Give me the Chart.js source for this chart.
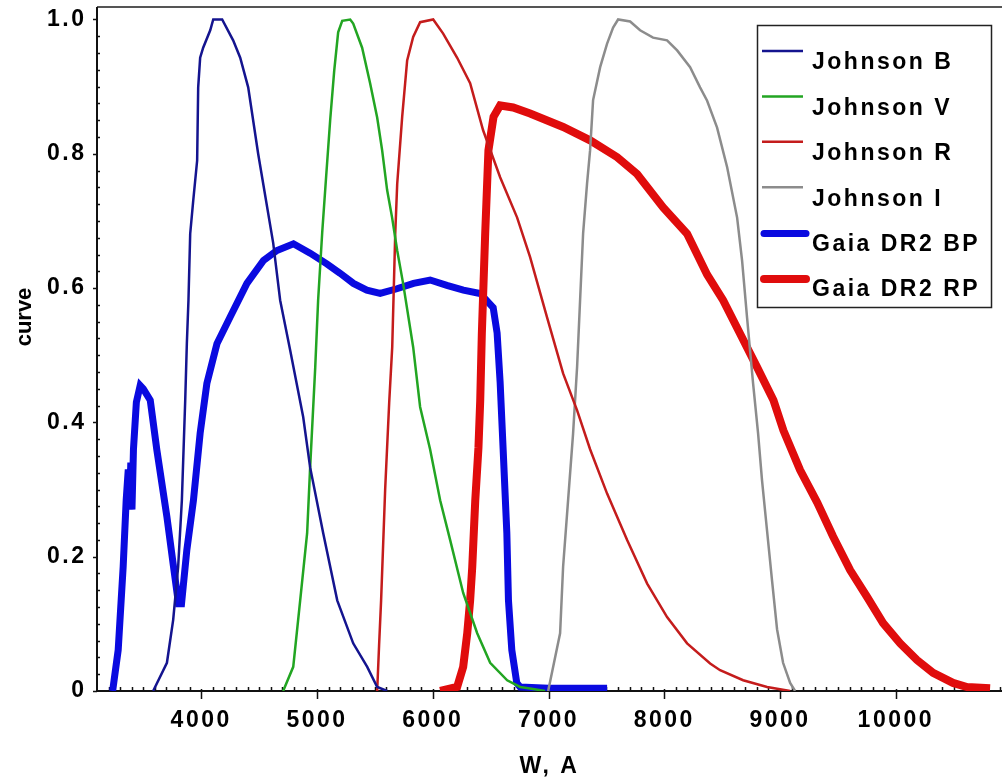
<!DOCTYPE html>
<html>
<head>
<meta charset="utf-8">
<script src="https://cdn.jsdelivr.net/npm/chart.js"></script>
<style>
  html, body { margin: 0; padding: 0; background: #fff; }
  #wrap { width: 1002px; height: 778px; }
</style>
</head>
<body>
<div id="wrap"><canvas id="myChart"></canvas></div>
<script>
// wavelength (A) / transmission pairs
const jbW = [3585, 3704, 3758, 3801, 3833, 3862, 3876, 3890, 3905, 3931, 3965, 3974, 3991, 4017, 4078, 4104, 4181, 4276, 4337, 4406, 4492, 4622, 4682, 4769, 4881, 4941, 5054, 5175, 5313, 5434, 5520, 5606];
const jbT = [0, 0.042, 0.106, 0.185, 0.284, 0.433, 0.517, 0.582, 0.681, 0.73, 0.79, 0.899, 0.943, 0.958, 0.984, 1.0, 1.0, 0.969, 0.943, 0.899, 0.8, 0.667, 0.582, 0.507, 0.408, 0.333, 0.235, 0.135, 0.071, 0.036, 0.006, 0];

const jvW = [4708, 4795, 4855, 4915, 4941, 4985, 5010, 5045, 5080, 5114, 5149, 5183, 5218, 5287, 5313, 5390, 5459, 5520, 5563, 5606, 5649, 5693, 5744, 5831, 5891, 5977, 6064, 6150, 6263, 6384, 6496, 6643, 6755, 6867, 6971];
const jvT = [0, 0.036, 0.135, 0.235, 0.333, 0.482, 0.582, 0.682, 0.768, 0.85, 0.924, 0.981, 0.998, 1.0, 0.994, 0.958, 0.905, 0.854, 0.805, 0.746, 0.705, 0.656, 0.607, 0.512, 0.423, 0.36, 0.284, 0.225, 0.146, 0.086, 0.042, 0.016, 0.006, 0.003, 0];

const jrW = [5520, 5537, 5554, 5589, 5624, 5650, 5676, 5693, 5736, 5779, 5831, 5891, 6004, 6090, 6211, 6323, 6435, 6582, 6729, 6841, 6988, 7126, 7247, 7359, 7506, 7679, 7852, 8024, 8197, 8396, 8482, 8681, 8888, 9087];
const jrT = [0, 0.07, 0.135, 0.3, 0.43, 0.512, 0.681, 0.755, 0.855, 0.939, 0.974, 0.996, 1.0, 0.979, 0.943, 0.905, 0.835, 0.765, 0.705, 0.646, 0.556, 0.473, 0.418, 0.36, 0.294, 0.225, 0.16, 0.11, 0.071, 0.041, 0.031, 0.016, 0.006, 0];

const jiW = [6997, 7100, 7126, 7169, 7212, 7247, 7273, 7299, 7333, 7359, 7385, 7446, 7506, 7558, 7601, 7705, 7791, 7903, 8024, 8111, 8223, 8309, 8370, 8456, 8543, 8629, 8672, 8715, 8741, 8767, 8810, 8844, 8888, 8931, 8974, 9026, 9087, 9130];
const jiT = [0, 0.086, 0.185, 0.284, 0.383, 0.483, 0.583, 0.682, 0.756, 0.805, 0.88, 0.929, 0.964, 0.988, 1.0, 0.997, 0.984, 0.973, 0.969, 0.954, 0.929, 0.899, 0.879, 0.839, 0.78, 0.705, 0.641, 0.556, 0.507, 0.458, 0.384, 0.314, 0.238, 0.164, 0.092, 0.042, 0.012, 0];

const bpW = [3235, 3283, 3326, 3352, 3370, 3380, 3392, 3402, 3415, 3440, 3473, 3500, 3560, 3617, 3704, 3761, 3804, 3830, 3876, 3933, 3991, 4049, 4136, 4250, 4395, 4538, 4654, 4797, 4941, 5085, 5200, 5315, 5431, 5546, 5690, 5834, 5978, 6122, 6265, 6409, 6522, 6556, 6582, 6608, 6640, 6654, 6683, 6726, 6755, 7000, 7506];
const bpT = [0, 0.061, 0.185, 0.284, 0.33, 0.27, 0.34, 0.27, 0.36, 0.43, 0.455, 0.45, 0.433, 0.359, 0.259, 0.185, 0.13, 0.13, 0.21, 0.284, 0.384, 0.458, 0.517, 0.557, 0.607, 0.641, 0.656, 0.666, 0.652, 0.636, 0.622, 0.607, 0.597, 0.592, 0.599, 0.607, 0.612, 0.604, 0.597, 0.592, 0.571, 0.533, 0.46, 0.36, 0.235, 0.135, 0.061, 0.012, 0.006, 0.004, 0.004];

const rpW = [6064, 6211, 6263, 6298, 6323, 6341, 6367, 6395, 6410, 6424, 6453, 6481, 6525, 6582, 6694, 6841, 7126, 7359, 7593, 7765, 7990, 8197, 8370, 8508, 8655, 8799, 8943, 9029, 9173, 9320, 9458, 9605, 9752, 9890, 10037, 10183, 10322, 10494, 10615, 10814];
const rpT = [0, 0.006, 0.036, 0.086, 0.135, 0.184, 0.283, 0.363, 0.432, 0.532, 0.681, 0.805, 0.855, 0.872, 0.869, 0.86, 0.84, 0.82, 0.795, 0.77, 0.72, 0.681, 0.62, 0.582, 0.532, 0.483, 0.433, 0.388, 0.329, 0.281, 0.23, 0.18, 0.14, 0.101, 0.071, 0.046, 0.027, 0.012, 0.006, 0.004];

const xTicks = [4000, 5000, 6000, 7000, 8000, 9000, 10000];
const yTicks = [0, 0.2, 0.4, 0.6, 0.8, 1.0];

const FONT = { family: "'Liberation Sans', Arial, sans-serif", size: 23, weight: "bold" };

function pts(ws, ts) {
  return ws.map((w, i) => ({ x: w, y: ts[i] }));
}

function line(label, ws, ts, color, width, order) {
  return {
    label: label,
    data: pts(ws, ts),
    borderColor: color,
    backgroundColor: color,
    borderWidth: width,
    pointRadius: 0,
    showLine: true,
    tension: 0,
    order: order,
  };
}

// no overhang padding from the tick labels
function noPad(s) {
  s.paddingTop = 0;
  s.paddingBottom = 0;
  s.paddingLeft = 0;
  s.paddingRight = 0;
}

// axis lines, minor ticks, y title and the legend box drawn by hand
const frame = {
  id: "frame",
  beforeDraw(chart) {
    chart.ctx.letterSpacing = "2.5px";
  },
  beforeDatasetsDraw(chart) {
    const ctx = chart.ctx;
    const a = chart.chartArea;
    const xs = chart.scales.x;
    const ys = chart.scales.y;
    ctx.save();
    ctx.strokeStyle = "#555";
    ctx.lineWidth = 2;
    ctx.beginPath();
    ctx.moveTo(a.left, a.top);
    ctx.lineTo(a.right, a.top);
    ctx.stroke();
    ctx.strokeStyle = "#111";
    ctx.beginPath();
    ctx.moveTo(a.left, a.top);
    ctx.lineTo(a.left, a.bottom);
    ctx.lineTo(a.right, a.bottom);
    ctx.stroke();
    ctx.lineWidth = 1.5;
    ctx.beginPath();
    for (let w = 3200; w <= 10900; w += 100) {
      const px = Math.round(xs.getPixelForValue(w)) + 0.5;
      if (w % 1000 === 0) {
        ctx.moveTo(px, a.bottom - 2);
        ctx.lineTo(px, a.bottom + 8);
      } else {
        ctx.moveTo(px, a.bottom - 4);
        ctx.lineTo(px, a.bottom);
      }
    }
    for (let i = 0; i <= 40; i++) {
      const py = Math.round(ys.getPixelForValue(i * 0.025)) + 0.5;
      if (i % 8 === 0) {
        ctx.moveTo(a.left - 4, py);
        ctx.lineTo(a.left, py);
      } else {
        ctx.moveTo(a.left, py);
        ctx.lineTo(a.left + 3, py);
      }
    }
    ctx.stroke();
    ctx.restore();
  },
  afterDraw(chart) {
    const ctx = chart.ctx;
    ctx.save();
    // y axis title
    ctx.save();
    ctx.letterSpacing = "0px";
    ctx.fillStyle = "#000";
    ctx.font = "bold 22px 'Liberation Sans', Arial, sans-serif";
    ctx.textAlign = "center";
    ctx.textBaseline = "middle";
    ctx.translate(25, 317);
    ctx.rotate(-Math.PI / 2);
    ctx.fillText("curve", 0, 0);
    ctx.restore();
    // legend
    ctx.fillStyle = "#fff";
    ctx.fillRect(757, 25, 235, 283);
    ctx.strokeStyle = "#222";
    ctx.lineWidth = 1.5;
    ctx.strokeRect(757.5, 25.5, 234, 282);
    ctx.font = "bold 23px 'Liberation Sans', Arial, sans-serif";
    ctx.textBaseline = "middle";
    ctx.textAlign = "left";
    chart.data.datasets.forEach((ds, i) => {
      const cy = 63 + i * 45.4;
      const thick = ds.borderWidth > 4;
      ctx.strokeStyle = ds.borderColor;
      ctx.lineWidth = ds.borderWidth;
      ctx.lineCap = thick ? "round" : "butt";
      ctx.beginPath();
      ctx.moveTo(thick ? 764 : 762, cy - (thick ? 11 : 12));
      ctx.lineTo(thick ? 806 : 803, cy - (thick ? 11 : 12));
      ctx.stroke();
      ctx.fillStyle = "#000";
      ctx.fillText(ds.label, 812, cy);
    });
    ctx.restore();
  },
};

const ctx = document.getElementById("myChart");
const chart = new Chart(ctx, {
  type: "scatter",
  data: {
    datasets: [
      line("Johnson B", jbW, jbT, "#14148f", 2.5, 0),
      line("Johnson V", jvW, jvT, "#22a522", 2.5, 0),
      line("Johnson R", jrW, jrT, "#c41c1c", 2.5, 0),
      line("Johnson I", jiW, jiT, "#8c8c8c", 2.5, 0),
      line("Gaia DR2 BP", bpW, bpT, "#0a0ae0", 7, 2),
      line("Gaia DR2 RP", rpW, rpT, "#e00c0c", 8, 1),
    ],
  },
  plugins: [frame],
  options: {
    responsive: true,
    maintainAspectRatio: false,
    animation: false,
    devicePixelRatio: 1,
    layout: { autoPadding: false, padding: { top: 7, right: 0, left: 0, bottom: 0 } },
    plugins: {
      legend: { display: false },
      tooltip: { enabled: false },
    },
    scales: {
      x: {
        type: "linear",
        min: 3100,
        max: 10917,
        afterBuildTicks: (s) => { s.ticks = xTicks.map((v) => ({ value: v })); },
        afterFit: (s) => { s.height = 87; noPad(s); },
        grid: { display: false, drawTicks: false },
        border: { display: false },
        ticks: {
          font: FONT,
          color: "#000",
          padding: 16,
          maxRotation: 0,
          autoSkip: false,
          callback: (v) => String(v),
        },
        title: {
          display: true,
          text: "W, A",
          color: "#000",
          font: { ...FONT, lineHeight: 1 },
          padding: { top: 0, bottom: 0 },
        },
      },
      y: {
        min: 0,
        max: 1.0186,
        afterBuildTicks: (s) => { s.ticks = yTicks.map((v) => ({ value: v })); },
        afterFit: (s) => { s.width = 97; noPad(s); },
        grid: { display: false, drawTicks: false },
        border: { display: false },
        ticks: {
          font: FONT,
          color: "#000",
          padding: 10.5,
          autoSkip: false,
          callback: (v) => (v === 0 ? "0" : v.toFixed(1)),
        },
      },
    },
  },
});
</script>
</body>
</html>
